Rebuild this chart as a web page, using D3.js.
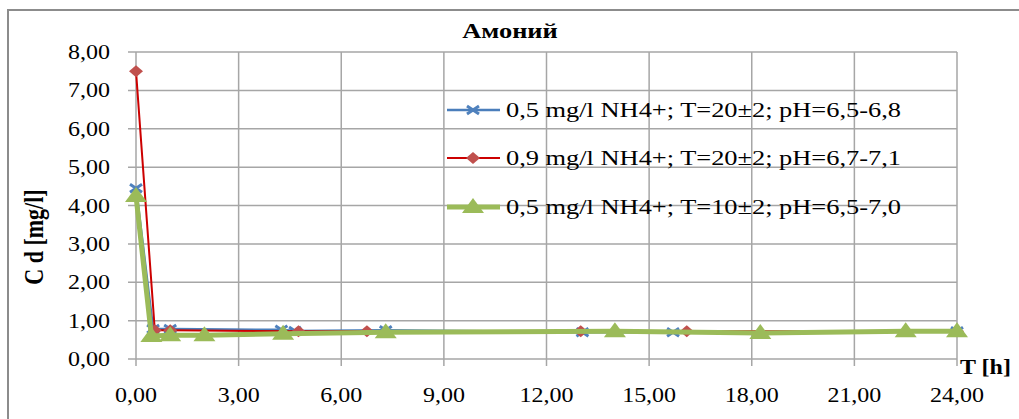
<!DOCTYPE html>
<html>
<head>
<meta charset="utf-8">
<script src="https://cdn.jsdelivr.net/npm/d3@7"></script>
<style>
  body { margin: 0; background: #fff; }
  svg text { font-family: "Liberation Serif", "Times New Roman", serif; fill: #000; }
</style>
</head>
<body>
<svg id="chart" width="1019" height="419"></svg>
<script>
// data
let ticksX = [0, 3, 6, 9, 12, 15, 18, 21, 24];
let ticksY = [0, 1, 2, 3, 4, 5, 6, 7, 8];

let blueT = [0, 0.5, 1.0, 4.25, 4.65, 7.3, 13.05, 15.7, 24];
let blueC = [4.45, 0.78, 0.78, 0.76, 0.73, 0.75, 0.7, 0.7, 0.72];

let redT = [0, 0.55, 1.0, 4.75, 6.75, 13.0, 16.1, 24];
let redC = [7.5, 0.75, 0.75, 0.72, 0.72, 0.72, 0.72, 0.72];

let greenT = [0, 0.45, 1.0, 2.0, 4.3, 7.3, 14.0, 18.25, 22.5, 24];
let greenC = [4.25, 0.6, 0.62, 0.62, 0.66, 0.7, 0.72, 0.68, 0.72, 0.72];

let seriesNames = [
  "0,5 mg/l NH4+; T=20\u00b12; pH=6,5-6,8",
  "0,9 mg/l NH4+; T=20\u00b12; pH=6,7-7,1",
  "0,5 mg/l NH4+; T=10\u00b12; pH=6,5-7,0"
];

let series = [
  {name: seriesNames[0], t: blueT, c: blueC, line: "#4a7ebb", width: 2.5, marker: "x", fill: "#4f81bd"},
  {name: seriesNames[1], t: redT, c: redC, line: "#cc0000", width: 2, marker: "diamond", fill: "#c0504d"},
  {name: seriesNames[2], t: greenT, c: greenC, line: "#9bbb59", width: 5, marker: "triangle", fill: "#9bbb59"}
];

let sx = 1.2; // picture is stretched sideways

let chart = d3.select("#chart");

let x = d3.scaleLinear().domain([0, 24]).range([136, 957]);
let y = d3.scaleLinear().domain([0, 8]).range([359, 52]);

// outer frame
chart.append("rect")
  .attr("x", 8).attr("y", 10)
  .attr("width", 1030).attr("height", 430)
  .attr("fill", "#fff")
  .attr("stroke", "#8c8c8c")
  .attr("stroke-width", 2);

function label(parent, tx, ty, str, opts) {
  opts = opts || {};
  let g = parent.append("g")
    .attr("transform", `translate(${tx},${ty})` + (opts.rotate ? ` rotate(${opts.rotate})` : ""));
  return g.append("text")
    .attr("transform", opts.rotate ? `scale(1,${sx})` : `scale(${sx},1)`)
    .attr("text-anchor", opts.anchor || "start")
    .attr("font-size", opts.size || 20)
    .attr("font-weight", opts.bold ? "bold" : "normal")
    .text(str);
}

// grid
let grid = chart.append("g").attr("class", "grid");
grid.selectAll("line.h")
  .data(ticksY)
  .enter()
  .append("line")
  .attr("class", "h")
  .attr("x1", x(0) - 8).attr("x2", x(24))
  .attr("y1", d => y(d)).attr("y2", d => y(d))
  .attr("stroke", "#a6a6a6").attr("stroke-width", 1.5);
grid.selectAll("line.v")
  .data(ticksX)
  .enter()
  .append("line")
  .attr("class", "v")
  .attr("x1", d => x(d)).attr("x2", d => x(d))
  .attr("y1", y(8)).attr("y2", y(0) + 7)
  .attr("stroke", "#a6a6a6").attr("stroke-width", 1.5);

// tick labels
let fmt = d => d3.format(".2f")(d).replace(".", ",");
ticksY.forEach(d => label(chart, 110, y(d) + 7, fmt(d), {anchor: "end", size: 20}));
ticksX.forEach(d => label(chart, x(d), 402, fmt(d), {anchor: "middle", size: 20}));

// titles
label(chart, 510, 38, "Амоний", {anchor: "middle", size: 22, bold: true});
label(chart, 960, 374, "T [h]", {size: 20, bold: true});
label(chart, 43, 237, "C d [mg/l]", {anchor: "middle", size: 22, bold: true, rotate: -90});

// markers
function drawMarker(sel, kind, color) {
  if (kind === "x") {
    sel.append("path")
      .attr("d", "M-6,-4L6,4M-6,4L6,-4")
      .attr("stroke", color).attr("stroke-width", 3).attr("fill", "none");
  } else if (kind === "diamond") {
    sel.append("path")
      .attr("d", "M0,-6L7,0L0,6L-7,0Z")
      .attr("fill", color);
  } else {
    sel.append("path")
      .attr("d", "M0,-9L11,6L-11,6Z")
      .attr("fill", color);
  }
}

let lineGen = d3.line().x(d => x(d[0])).y(d => y(d[1]));
let plot = chart.append("g").attr("class", "series");

series.forEach(s => {
  let pts = s.t.map((t, i) => [t, s.c[i]]);
  plot.append("path")
    .datum(pts)
    .attr("d", lineGen)
    .attr("fill", "none")
    .attr("stroke", s.line)
    .attr("stroke-width", s.width)
    .attr("stroke-linejoin", "round");
  plot.selectAll(null)
    .data(pts)
    .enter()
    .append("g")
    .attr("transform", d => `translate(${x(d[0])},${y(d[1])})`)
    .each(function() { drawMarker(d3.select(this), s.marker, s.fill); });
});

// legend
let legendY = [110, 158, 207];
let legend = chart.append("g").attr("class", "legend");
series.forEach((s, i) => {
  legend.append("line")
    .attr("x1", 447).attr("x2", 500)
    .attr("y1", legendY[i]).attr("y2", legendY[i])
    .attr("stroke", s.line).attr("stroke-width", s.width);
  let m = legend.append("g").attr("transform", `translate(473,${legendY[i]})`);
  drawMarker(m, s.marker, s.fill);
  label(legend, 506, legendY[i] + 7, s.name, {size: 22});
});
</script>
</body>
</html>
